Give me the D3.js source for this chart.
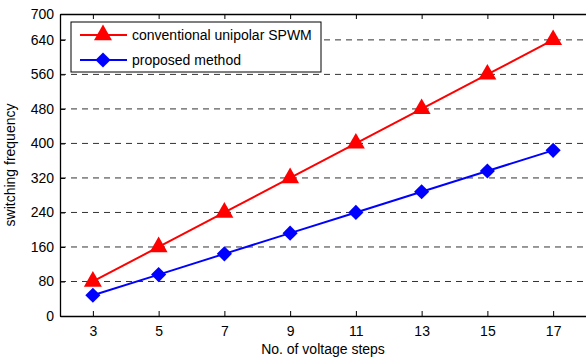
<!DOCTYPE html>
<html>
<head>
<meta charset="utf-8">
<script src="https://cdn.jsdelivr.net/npm/d3@7"></script>
<style>
  body { margin: 0; background: #fff; }
  text { font-family: "Liberation Sans", Arial, sans-serif; fill: #000; }
</style>
</head>
<body>
<div id="chart"></div>
<script>
  // Data

  const steps = [3, 5, 7, 9, 11, 13, 15, 17];
  const conventional = [80, 160, 240, 320, 400, 480, 560, 640];
  const proposed = [48, 96, 144, 192, 240, 288, 336, 384];
  const yTicks = [0, 80, 160, 240, 320, 400, 480, 560, 640, 700];
  const seriesNames = ["conventional unipolar SPWM", "proposed method"];

  // Config

  const width = 586;
  const height = 360;
  const margin = { top: 14, right: 0, bottom: 44, left: 60 };

  const svg = d3.select("#chart").append("svg")
    .attr("width", width)
    .attr("height", height);

  const xScale = d3.scaleLinear().domain([2, 18]).range([margin.left, width - margin.right]);
  const yScale = d3.scaleLinear().domain([0, 700]).range([height - margin.bottom, margin.top]);

  // Grid lines

  svg.append("g")
    .selectAll("line")
    .data(yTicks.filter(d => d > 0 && d < 700))
    .join("line")
    .attr("x1", margin.left)
    .attr("x2", width - margin.right)
    .attr("y1", d => yScale(d))
    .attr("y2", d => yScale(d))
    .attr("stroke", "#333")
    .attr("stroke-width", 1)
    .attr("stroke-dasharray", "6,5");

  // Axes (ticks inward, box style)

  const xAxis = d3.axisBottom(xScale).tickValues(steps).tickSizeInner(-5).tickSizeOuter(0).tickPadding(10);
  const yAxis = d3.axisLeft(yScale).tickValues(yTicks).tickSizeInner(-5).tickSizeOuter(0).tickPadding(6);

  const gx = svg.append("g")
    .attr("transform", "translate(0," + (height - margin.bottom) + ")")
    .call(xAxis);

  const gxTop = svg.append("g")
    .attr("transform", "translate(0," + margin.top + ")")
    .call(d3.axisTop(xScale).tickValues(steps).tickSizeInner(-5).tickSizeOuter(0).tickFormat(""));

  const gy = svg.append("g")
    .attr("transform", "translate(" + margin.left + ",0)")
    .call(yAxis);

  [gx, gxTop, gy].forEach(g => {
    g.select(".domain").attr("stroke", "#000").attr("stroke-width", 1.3);
    g.selectAll(".tick line").attr("stroke", "#000");
    g.selectAll(".tick text").style("font-size", "14px").attr("fill", "#000");
  });

  // Axis labels

  svg.append("text")
    .attr("x", xScale(10))
    .attr("y", height - 6)
    .attr("text-anchor", "middle")
    .style("font-size", "14px")
    .text("No. of voltage steps");

  svg.append("text")
    .attr("transform", "translate(15," + yScale(350) + ") rotate(-90)")
    .attr("text-anchor", "middle")
    .style("font-size", "14px")
    .text("switching frequency");

  // Lines and markers

  const line = d3.line()
    .x((d, i) => xScale(steps[i]))
    .y(d => yScale(d));

  const triangle = d3.symbol().type(d3.symbolTriangle).size(140);
  const diamond = d3.symbol().type(d3.symbolSquare).size(115);

  function drawSeries(values, color, symbol, rotate) {
    svg.append("path")
      .datum(values)
      .attr("d", line)
      .attr("fill", "none")
      .attr("stroke", color)
      .attr("stroke-width", 2);

    svg.append("g")
      .selectAll("path")
      .data(values)
      .join("path")
      .attr("d", symbol)
      .attr("transform", (d, i) => "translate(" + xScale(steps[i]) + "," + yScale(d) + ") rotate(" + rotate + ")")
      .attr("fill", color);
  }

  drawSeries(conventional, "#ff0000", triangle, 0);
  drawSeries(proposed, "#0000ff", diamond, 45);

  // Legend

  const legend = svg.append("g").attr("transform", "translate(71,22)");

  legend.append("rect")
    .attr("width", 250)
    .attr("height", 50)
    .attr("fill", "#fff")
    .attr("stroke", "#000")
    .attr("stroke-width", 1);

  const legendItems = [
    { name: seriesNames[0], color: "#ff0000", symbol: triangle, rotate: 0 },
    { name: seriesNames[1], color: "#0000ff", symbol: diamond, rotate: 45 }
  ];

  legendItems.forEach((item, i) => {
    const yy = 13 + i * 25;
    legend.append("line")
      .attr("x1", 9).attr("x2", 56)
      .attr("y1", yy).attr("y2", yy)
      .attr("stroke", item.color)
      .attr("stroke-width", 2);
    legend.append("path")
      .attr("d", item.symbol)
      .attr("transform", "translate(32," + yy + ") rotate(" + item.rotate + ")")
      .attr("fill", item.color);
    legend.append("text")
      .attr("x", 61)
      .attr("y", yy)
      .attr("dy", "0.35em")
      .style("font-size", "14px")
      .text(item.name);
  });
</script>
</body>
</html>
